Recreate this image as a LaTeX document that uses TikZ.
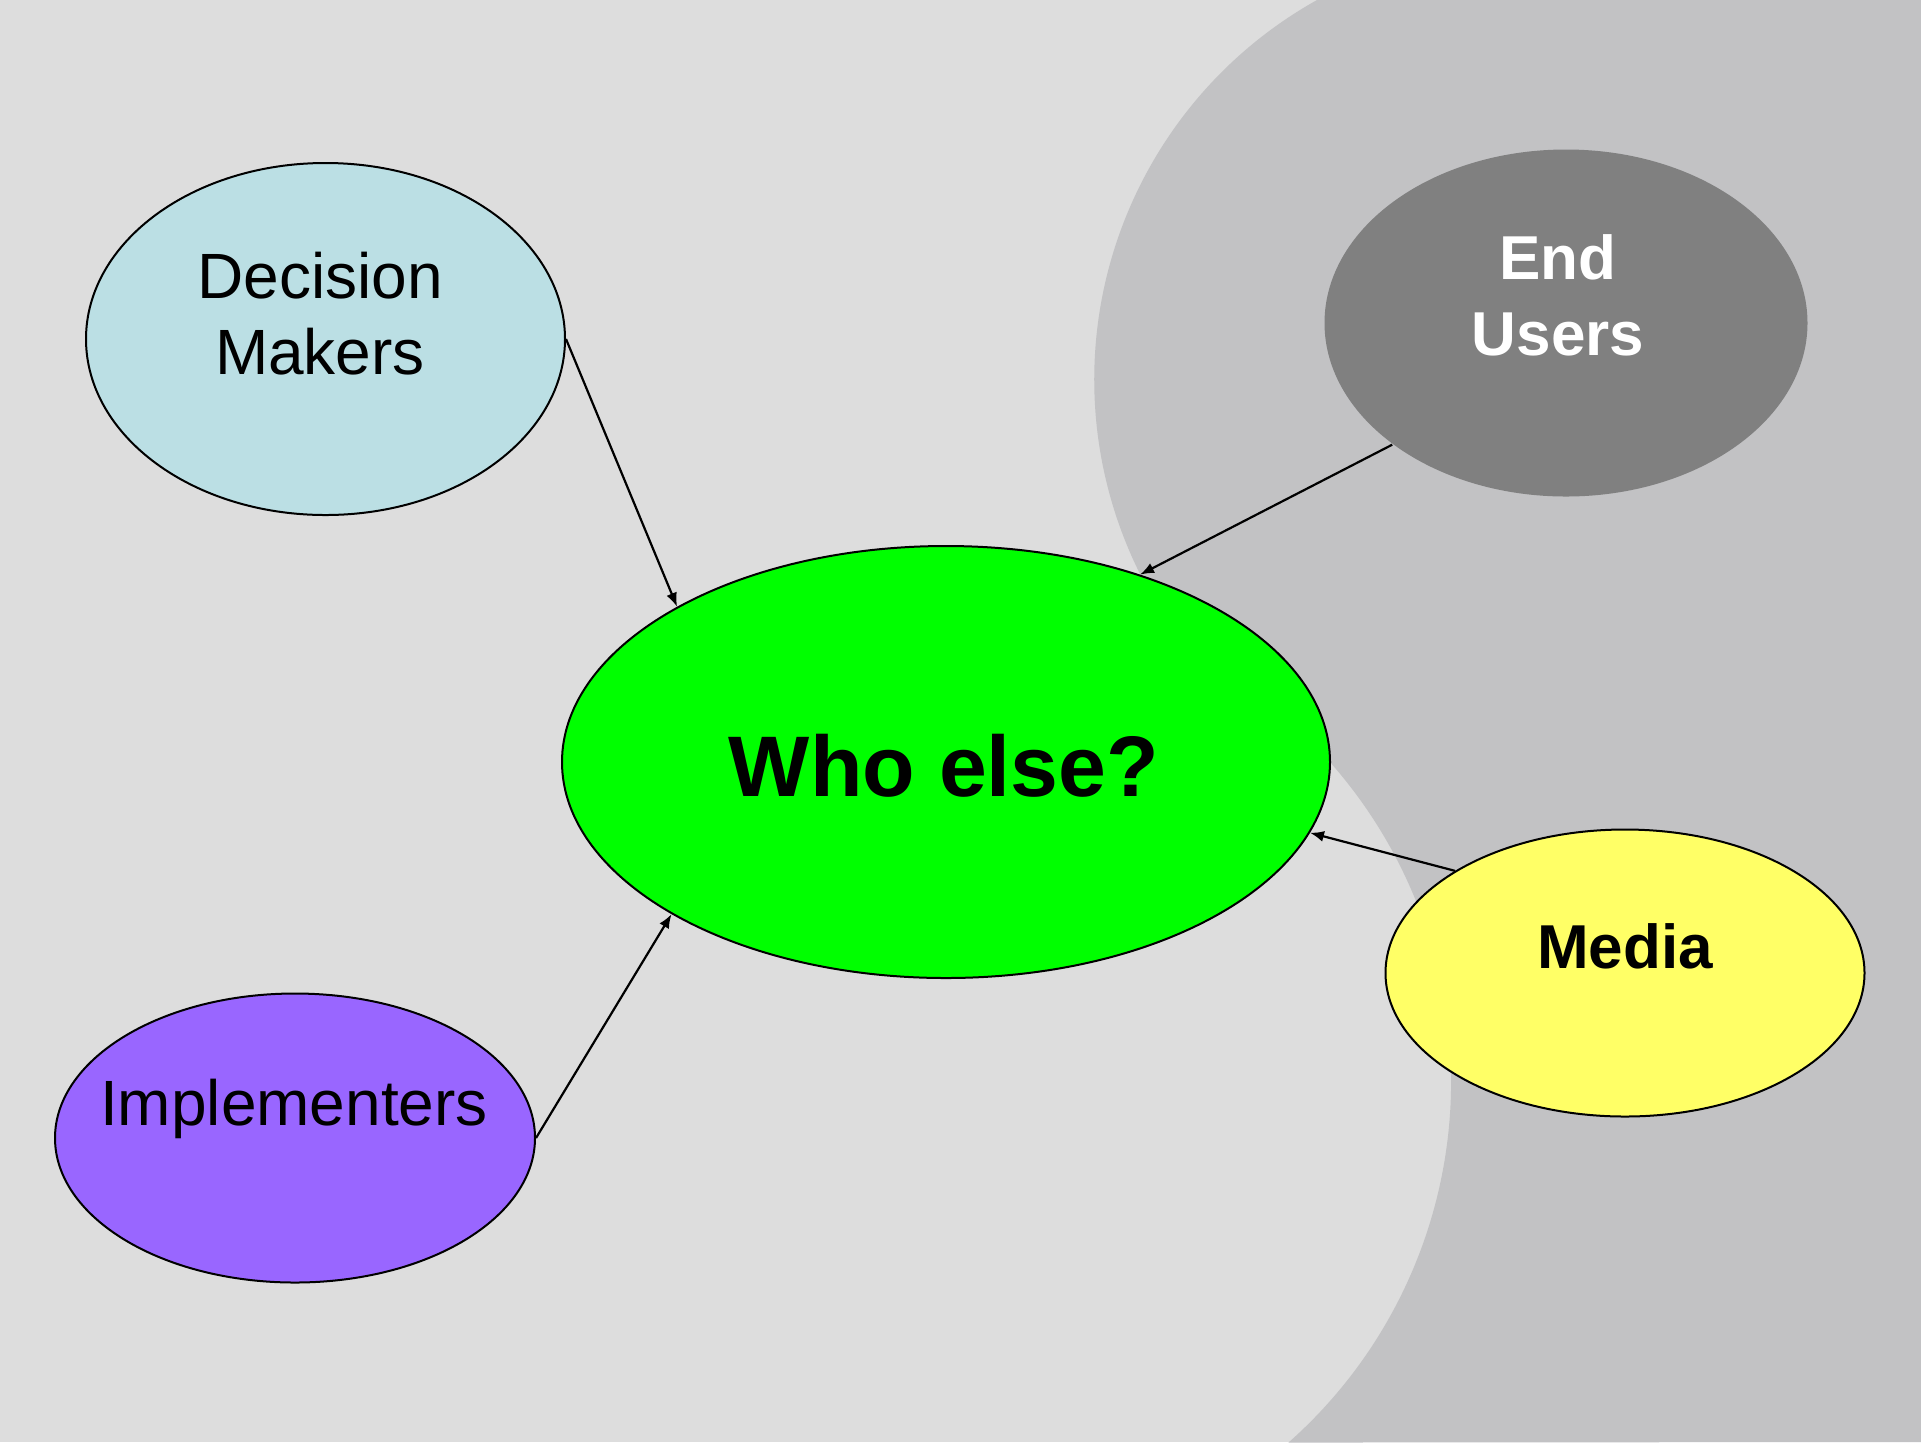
\documentclass[tikz,border=0pt]{standalone}
\usepackage{fontspec}
\setmainfont{Liberation Sans}
\usetikzlibrary{shapes.geometric,arrows.meta}
\definecolor{bglight}{HTML}{DDDDDD}
\definecolor{bgdark}{HTML}{C2C2C4}
\definecolor{dmfill}{HTML}{BBDFE4}
\definecolor{eufill}{HTML}{808080}
\definecolor{whofill}{HTML}{00FF00}
\definecolor{mediafill}{HTML}{FFFF66}
\definecolor{implfill}{HTML}{9966FF}
\begin{document}
\begin{tikzpicture}[x=0.5pt,y=-0.5pt,
  bubble/.style={ellipse, draw=black, line width=1pt, inner sep=0pt},
  lbl/.style={font=\fontsize{32}{38}\selectfont, align=center, anchor=base, inner sep=0pt},
  link/.style={-{Latex[length=7pt,width=5.5pt]}, line width=1.1pt}]
\useasboundingbox (0,0) rectangle (1921,1442);
\fill[bglight] (0,0) rectangle (1921,1442);
\fill[bgdark] (1317,0) arc[start angle=240.8, end angle=140.9, radius=435]
  arc[start angle=-62.5, end angle=48.5, radius=482]
  -- (1921,1442) -- (1921,0) -- cycle;

\node[bubble, fill=dmfill, minimum width=239.5pt, minimum height=176pt] (dm) at (325.5,339) {};
\node[bubble, draw=none, fill=eufill, minimum width=241.5pt, minimum height=173.5pt] (eu) at (1566,323) {};
\node[bubble, fill=whofill, minimum width=384pt, minimum height=216pt] (who) at (946,762) {};
\node[bubble, fill=mediafill, minimum width=239.5pt, minimum height=143.5pt] (media) at (1625,973) {};
\node[bubble, fill=implfill, minimum width=240pt, minimum height=144.5pt] (impl) at (295,1138) {};

\node[lbl] (dmtext) at (320,374) {Decision\\Makers};
\node[lbl, text=white, font=\fontsize{31}{38}\selectfont\bfseries] (eutext) at (1558,355) {End\\Users};
\node[lbl, font=\fontsize{43}{50}\selectfont\bfseries] (whotext) at (944,796) {Who else?};
\node[lbl, font=\fontsize{31}{38}\selectfont\bfseries] (mediatext) at (1625,968) {Media};
\node[lbl] (impltext) at (294,1125) {Implementers};

\draw[link] (dm.east) -- (who.150.6);
\draw[link] (eu.215.7) -- (who.44.5);
\draw[link] (media.149.2) -- (who.349.6);
\draw[link] (impl.east) -- (who.209.2);
\end{tikzpicture}
\end{document}
